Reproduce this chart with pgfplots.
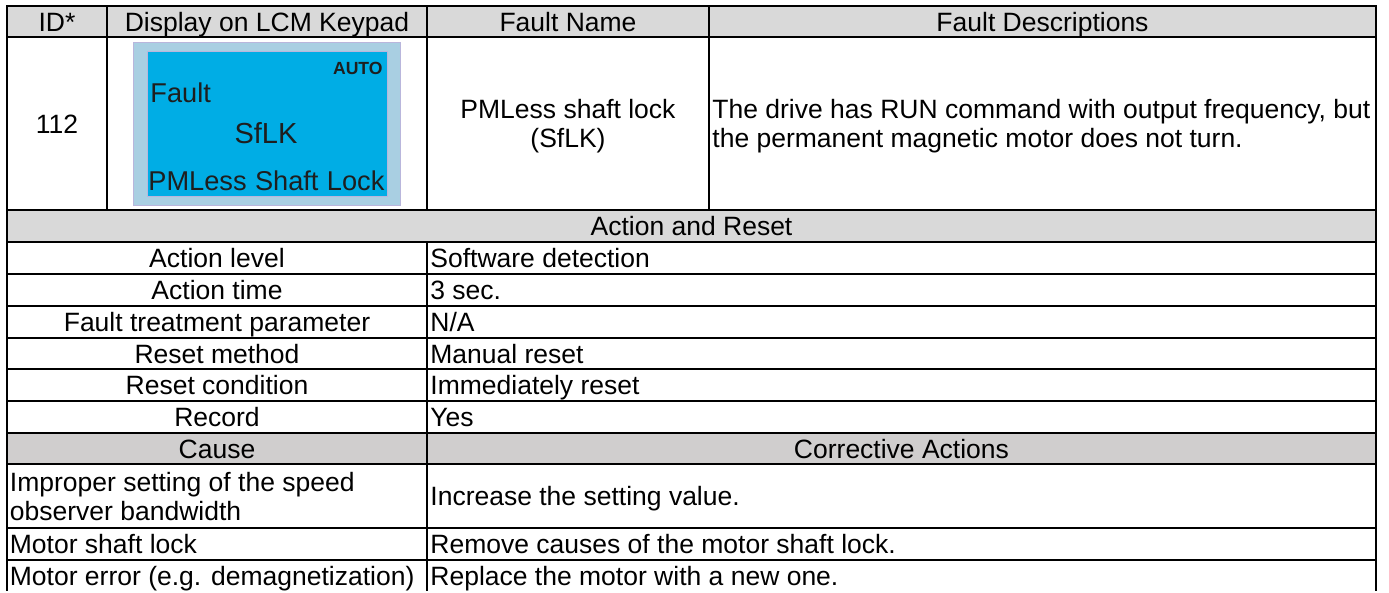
\documentclass[border=0pt]{standalone}
\usepackage{pgfplots}
\pgfplotsset{compat=1.18}
\usepackage{fontspec}
\setmainfont{Liberation Sans}
\definecolor{hdrgray}{HTML}{D9D9D9}
\definecolor{causegray}{HTML}{D0CECE}
\definecolor{lcdouter}{HTML}{A9CFE2}
\definecolor{lcdinner}{HTML}{00ADE5}
\definecolor{lcdedge}{HTML}{B9B6DC}
\definecolor{lcdtext}{HTML}{1E1E1E}
\begin{document}
\begin{tikzpicture}
\begin{axis}[scale only axis, width=694.5pt, height=295.5pt,
  xmin=0, xmax=1389, ymin=0, ymax=591, y dir=reverse,
  hide axis, clip=false]
\fill[white] (0,0) rectangle (1389,591);
% shaded rows
\fill[hdrgray] (7,6) rectangle (1376,37);
\fill[hdrgray] (7,210) rectangle (1376,242);
\fill[causegray] (7,433) rectangle (1376,464);
% LCD picture
\filldraw[fill=lcdouter, draw=lcdedge, line width=0.4pt] (133,42) rectangle (400,205);
\filldraw[fill=lcdinner, draw=lcdedge, line width=0.4pt] (147,51) rectangle (387,196);
\node[anchor=base east, inner sep=0, text=lcdtext, font=\fontsize{8.8}{10}\selectfont\bfseries] at (383,74) {AUTO};
\node[anchor=base west, inner sep=0, text=lcdtext, font=\fontsize{13.6}{15}\selectfont] at (150,102) {Fault};
\node[anchor=base, inner sep=0, text=lcdtext, font=\fontsize{14.5}{16}\selectfont] at (266,143) {SfLK};
\node[anchor=base west, inner sep=0, text=lcdtext, font=\fontsize{13.6}{15}\selectfont, text width=118pt] at (148,190) {PMLess\hfill Shaft\hfill Lock};
% grid lines
\draw[line width=1.45pt, line cap=rect] (7,6) -- (1376,6);
\draw[line width=1.45pt, line cap=rect] (7,37) -- (1376,37);
\draw[line width=1.45pt, line cap=rect] (7,210) -- (1376,210);
\draw[line width=1.45pt, line cap=rect] (7,242) -- (1376,242);
\draw[line width=1.45pt, line cap=rect] (7,274) -- (1376,274);
\draw[line width=1.45pt, line cap=rect] (7,306) -- (1376,306);
\draw[line width=1.45pt, line cap=rect] (7,338) -- (1376,338);
\draw[line width=1.45pt, line cap=rect] (7,369) -- (1376,369);
\draw[line width=1.45pt, line cap=rect] (7,401) -- (1376,401);
\draw[line width=1.45pt, line cap=rect] (7,433) -- (1376,433);
\draw[line width=1.45pt, line cap=rect] (7,464) -- (1376,464);
\draw[line width=1.45pt, line cap=rect] (7,528) -- (1376,528);
\draw[line width=1.45pt, line cap=rect] (7,560) -- (1376,560);
\draw[line width=1.45pt] (7,6) -- (7,591);
\draw[line width=1.45pt] (1376,6) -- (1376,591);
\draw[line width=1.45pt] (107,6) -- (107,210);
\draw[line width=1.45pt] (427,6) -- (427,210);
\draw[line width=1.45pt] (709,6) -- (709,210);
\draw[line width=1.45pt] (427,242) -- (427,591);
% texts
\begin{scope}[every node/.style={inner sep=0, font=\fontsize{13.25}{14.5}\selectfont}]
\node[anchor=base] at (57,31) {ID*};
\node[anchor=base] at (267,31) {Display on LCM Keypad};
\node[anchor=base] at (568,31) {Fault Name};
\node[anchor=base] at (1042.5,31) {Fault Descriptions};
\node[anchor=base] at (57,133) {112};
\node[anchor=base] at (568,118.5) {PMLess shaft lock};
\node[anchor=base] at (568,147.5) {(SfLK)};
\node[anchor=base west] at (712,118.5) {The drive has RUN command with output frequency, but};
\node[anchor=base west] at (712,147.5) {the permanent magnetic motor does not turn.};
\node[anchor=base] at (691.5,235.5) {Action and Reset};
\node[anchor=base] at (217,267.5) {Action level};
\node[anchor=base] at (217,299.5) {Action time};
\node[anchor=base] at (217,331.5) {Fault treatment parameter};
\node[anchor=base] at (217,363) {Reset method};
\node[anchor=base] at (217,394.5) {Reset condition};
\node[anchor=base] at (217,426.5) {Record};
\node[anchor=base west] at (430,267.5) {Software detection};
\node[anchor=base west] at (430,299.5) {3 sec.};
\node[anchor=base west] at (430,331.5) {N/A};
\node[anchor=base west] at (430,363) {Manual reset};
\node[anchor=base west] at (430,394.5) {Immediately reset};
\node[anchor=base west] at (430,426.5) {Yes};
\node[anchor=base] at (217,458) {Cause};
\node[anchor=base] at (901.5,458) {Corrective Actions};
\node[anchor=base west] at (9.5,491) {Improper setting of the speed};
\node[anchor=base west] at (9.5,520) {observer bandwidth};
\node[anchor=base west] at (430,505.5) {Increase the setting value.};
\node[anchor=base west] at (9.5,553.5) {Motor shaft lock};
\node[anchor=base west] at (430,553.5) {Remove causes of the motor shaft lock.};
\node[anchor=base west] at (9.5,585.5) {Motor error (e.g. demagnetization)};
\node[anchor=base west] at (430,585.5) {Replace the motor with a new one.};
\end{scope}
\end{axis}
\end{tikzpicture}
\end{document}
